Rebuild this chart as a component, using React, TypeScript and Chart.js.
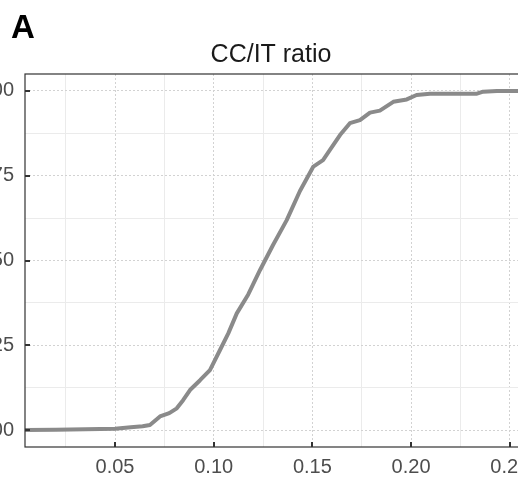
import React, { useEffect, useRef } from "react";
import { Chart, registerables } from "chart.js";

Chart.register(...registerables);

const panelLabel = "A";
const chartTitle = "CC/IT ratio";

const ratioValues = [
  0.0044, 0.02, 0.035, 0.05, 0.058, 0.064, 0.0677, 0.0728, 0.0775, 0.0813,
  0.0845, 0.088, 0.0931, 0.0981, 0.1032, 0.1074, 0.1117, 0.1175, 0.1235, 0.13,
  0.137, 0.1437, 0.1505, 0.1554, 0.1589, 0.164, 0.169, 0.1741, 0.1792, 0.1842,
  0.191, 0.1978, 0.2028, 0.2096, 0.2334, 0.2365, 0.2435, 0.26,
];
const cumulativeShare = [
  0, 0.001, 0.002, 0.004, 0.008, 0.011, 0.015, 0.04, 0.05, 0.064,
  0.088, 0.118, 0.147, 0.177, 0.236, 0.285, 0.344, 0.4, 0.472, 0.545,
  0.619, 0.705, 0.777, 0.796, 0.826, 0.87, 0.905, 0.914, 0.936, 0.942,
  0.968, 0.975, 0.988, 0.992, 0.992, 0.998, 1.0, 1.0,
];

const xMajorTicks = [0.05, 0.1, 0.15, 0.2, 0.25];
const xMinorTicks = [0.025, 0.075, 0.125, 0.175, 0.225];
const yMajorTicks = [0, 0.25, 0.5, 0.75, 1.0];
const yMinorTicks = [0.125, 0.375, 0.625, 0.875];

const X_MIN = 0.0044;
const X_MAX = 0.2557;
const Y_MIN = -0.05;
const Y_MAX = 1.05;

const OFFSET = 40;
const CANVAS_W = 600;
const CANVAS_H = 481;
const FONT = '"Liberation Sans", Arial, Helvetica, sans-serif';

const isIn = (list: number[], v: number) => list.some((m) => Math.abs(m - v) < 1e-9);

export default function App() {
  const ref = useRef<HTMLCanvasElement | null>(null);

  useEffect(() => {
    if (!ref.current) return;

    const framePlugin = {
      id: "frame",
      afterDraw(chart: any) {
        const { ctx, chartArea } = chart;
        const xs = chart.scales.x;
        const ys = chart.scales.y;
        ctx.save();
        ctx.strokeStyle = "#333333";
        ctx.lineWidth = 1.2;
        ctx.strokeRect(chartArea.left, chartArea.top, chartArea.right - chartArea.left, chartArea.bottom - chartArea.top);
        ctx.lineWidth = 2;
        ctx.beginPath();
        xMajorTicks.forEach((v) => {
          const px = Math.round(xs.getPixelForValue(v));
          ctx.moveTo(px, chartArea.bottom);
          ctx.lineTo(px, chartArea.bottom - 5);
        });
        yMajorTicks.forEach((v) => {
          const py = Math.round(ys.getPixelForValue(v));
          ctx.moveTo(chartArea.left, py);
          ctx.lineTo(chartArea.left + 5, py);
        });
        ctx.stroke();
        ctx.fillStyle = "#1a1a1a";
        ctx.font = `25px ${FONT}`;
        ctx.textAlign = "center";
        ctx.textBaseline = "alphabetic";
        ctx.fillText(chartTitle, 271 + OFFSET, 62);
        ctx.fillStyle = "#000000";
        ctx.font = `bold 33px ${FONT}`;
        ctx.textAlign = "left";
        ctx.fillText(panelLabel, 11 + OFFSET, 38);
        ctx.restore();
      },
    };

    const chart = new Chart(ref.current, {
      type: "scatter",
      data: {
        datasets: [
          {
            data: ratioValues.map((x, i) => ({ x, y: cumulativeShare[i] })),
            showLine: true,
            borderColor: "#8a8a8a",
            borderWidth: 4,
            pointRadius: 0,
            pointHoverRadius: 0,
            tension: 0,
            borderCapStyle: "round",
            borderJoinStyle: "round",
          } as any,
        ],
      },
      options: {
        animation: false,
        responsive: false,
        devicePixelRatio: 1,
        layout: { padding: { top: 74, right: CANVAS_W - (521 + OFFSET), left: 0, bottom: 0 } },
        plugins: { legend: { display: false }, tooltip: { enabled: false }, title: { display: false } },
        scales: {
          x: {
            type: "linear",
            min: X_MIN,
            max: X_MAX,
            afterBuildTicks: (scale: any) => {
              scale.ticks = [...xMajorTicks, ...xMinorTicks].sort((a, b) => a - b).map((value) => ({ value }));
            },
            afterFit: (scale: any) => {
              scale.height = CANVAS_H - 447;
            },
            ticks: {
              autoSkip: false,
              maxRotation: 0,
              padding: 8,
              color: "#4d4d4d",
              font: { family: FONT, size: 20 },
              callback: (value: any) => (isIn(xMajorTicks, Number(value)) ? Number(value).toFixed(2) : ""),
            },
            grid: {
              drawTicks: false,
              lineWidth: 1,
              color: (ctx: any) => (isIn(xMajorTicks, ctx.tick.value) ? "#d2d2d2" : "#ebebeb"),
            },
            border: {
              display: false,
              dash: (ctx: any) => (isIn(xMajorTicks, ctx.tick.value) ? [2, 2] : []),
            } as any,
          },
          y: {
            type: "linear",
            min: Y_MIN,
            max: Y_MAX,
            afterBuildTicks: (scale: any) => {
              scale.ticks = [...yMajorTicks, ...yMinorTicks].sort((a, b) => a - b).map((value) => ({ value }));
            },
            afterFit: (scale: any) => {
              scale.width = 25 + OFFSET;
            },
            ticks: {
              autoSkip: false,
              padding: 11,
              color: "#4d4d4d",
              font: { family: FONT, size: 20 },
              callback: (value: any) => (isIn(yMajorTicks, Number(value)) ? Number(value).toFixed(2) : ""),
            },
            grid: {
              drawTicks: false,
              lineWidth: 1,
              color: (ctx: any) => (isIn(yMajorTicks, ctx.tick.value) ? "#d2d2d2" : "#ebebeb"),
            },
            border: {
              display: false,
              dash: (ctx: any) => (isIn(yMajorTicks, ctx.tick.value) ? [2, 2] : []),
            } as any,
          },
        },
      } as any,
      plugins: [framePlugin],
    });

    return () => chart.destroy();
  }, []);

  return (
    <div style={{ position: "fixed", left: 0, top: 0, width: 518, height: 481, overflow: "hidden", background: "#ffffff" }}>
      <canvas
        ref={ref}
        width={CANVAS_W}
        height={CANVAS_H}
        style={{ position: "absolute", left: -OFFSET, top: 0, width: CANVAS_W, height: CANVAS_H, display: "block" }}
      />
    </div>
  );
}
